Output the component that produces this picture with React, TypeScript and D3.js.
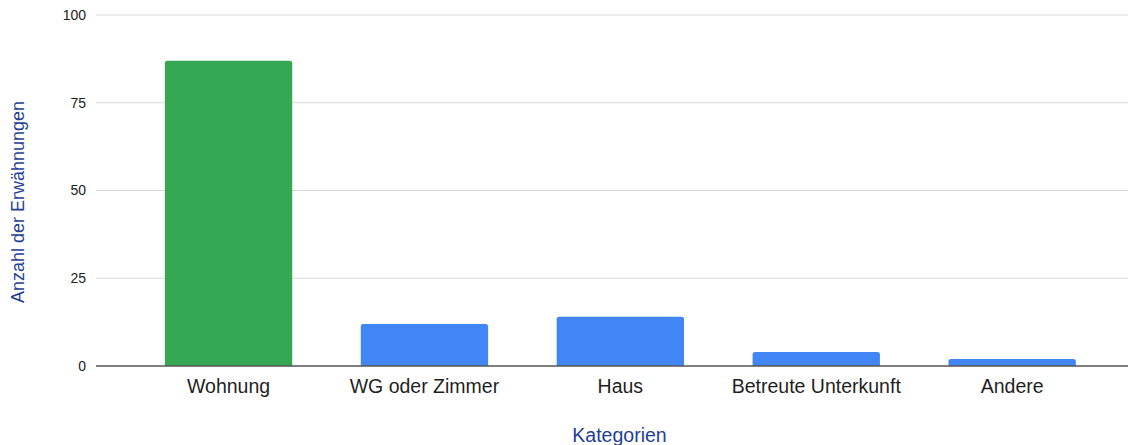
import React, { useRef, useEffect } from "react";
import * as d3 from "d3";

const categories = [
  "Wohnung",
  "WG oder Zimmer",
  "Haus",
  "Betreute Unterkunft",
  "Andere",
];
const counts = [87, 12, 14, 4, 2];
const barColors = ["#34A853", "#4285F4", "#4285F4", "#4285F4", "#4285F4"];
const yTicks = [0, 25, 50, 75, 100];

const WIDTH = 1128;
const HEIGHT = 445;

const App = () => {
  const chartRef = useRef<SVGSVGElement | null>(null);

  useEffect(() => {
    document.body.style.margin = "0";
    if (!chartRef.current) return;

    const svg = d3.select(chartRef.current);
    svg.selectAll("*").remove();

    const font = "'Liberation Sans', Arial, sans-serif";
    const plot = { left: 96, right: WIDTH, top: 15, bottom: 366 };

    // X scale
    const x = d3
      .scaleBand()
      .domain(categories)
      .range([130.6, 1110.1])
      .paddingInner(0.35)
      .paddingOuter(0.175);

    // Y scale
    const y = d3.scaleLinear().domain([0, 100]).range([plot.bottom, plot.top]);

    // Grid lines
    svg
      .append("g")
      .selectAll("line")
      .data(yTicks.filter((t) => t !== 0))
      .enter()
      .append("line")
      .attr("x1", plot.left)
      .attr("x2", plot.right)
      .attr("y1", (d) => y(d))
      .attr("y2", (d) => y(d))
      .attr("stroke", "#DADADA")
      .attr("stroke-width", 1);

    // Y tick labels
    svg
      .append("g")
      .selectAll("text")
      .data(yTicks)
      .enter()
      .append("text")
      .attr("x", 86)
      .attr("y", (d) => y(d))
      .attr("dy", "0.35em")
      .attr("text-anchor", "end")
      .style("font-family", font)
      .style("font-size", "14px")
      .style("fill", "#222")
      .text((d) => d.toString());

    // rounded top bar path
    const roundedTop = (bx: number, by: number, w: number, h: number, r: number) => {
      if (r > h) r = h;
      return `M${bx},${by + h} V${by + r} Q${bx},${by} ${bx + r},${by} H${bx + w - r} Q${bx + w},${by} ${bx + w},${by + r} V${by + h} Z`;
    };

    // Bars
    svg
      .append("g")
      .selectAll("path")
      .data(counts)
      .enter()
      .append("path")
      .attr("d", (d, i) => {
        const bx = x(categories[i]) || 0;
        const by = y(d);
        return roundedTop(bx, by, x.bandwidth(), plot.bottom - by, 2.5);
      })
      .attr("fill", (_, i) => barColors[i]);

    // Baseline
    svg
      .append("line")
      .attr("x1", plot.left)
      .attr("x2", plot.right)
      .attr("y1", plot.bottom)
      .attr("y2", plot.bottom)
      .attr("stroke", "#555")
      .attr("stroke-width", 1.3);

    // X labels
    svg
      .append("g")
      .selectAll("text")
      .data(categories)
      .enter()
      .append("text")
      .attr("x", (d) => (x(d) || 0) + x.bandwidth() / 2)
      .attr("y", 393)
      .attr("text-anchor", "middle")
      .style("font-family", font)
      .style("font-size", "19.5px")
      .style("fill", "#1F1F1F")
      .text((d) => d);

    // Axis titles
    svg
      .append("text")
      .attr("x", 619.5)
      .attr("y", 442)
      .attr("text-anchor", "middle")
      .style("font-family", font)
      .style("font-size", "19.5px")
      .style("fill", "#1F3F97")
      .text("Kategorien");

    svg
      .append("text")
      .attr("transform", `translate(24,202) rotate(-90)`)
      .attr("text-anchor", "middle")
      .style("font-family", font)
      .style("font-size", "18px")
      .style("fill", "#1F3F97")
      .text("Anzahl der Erwähnungen");
  }, []);

  return (
    <svg
      ref={chartRef}
      width={WIDTH}
      height={HEIGHT}
      style={{ display: "block", background: "#fff" }}
    />
  );
};

export default App;
